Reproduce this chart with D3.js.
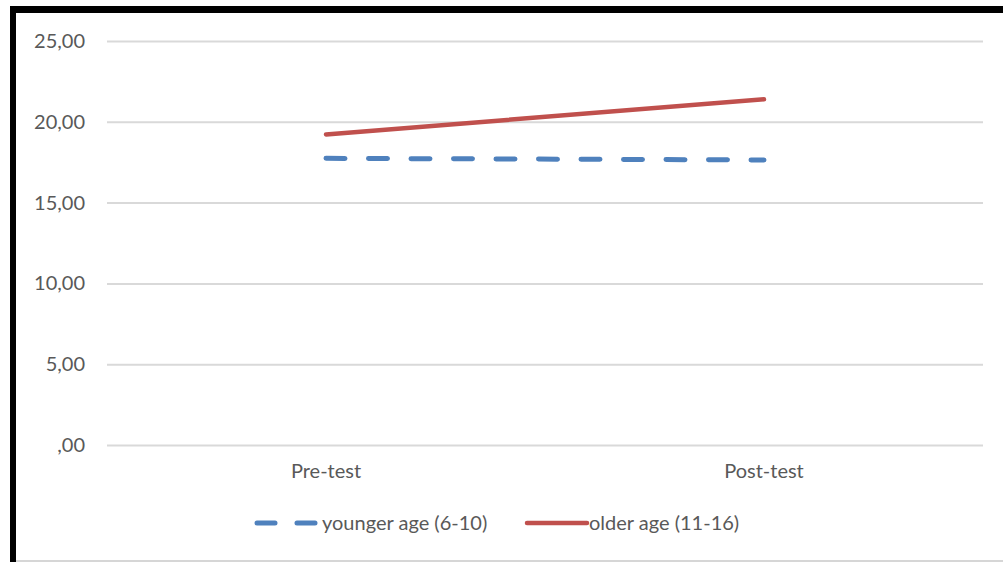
<!DOCTYPE html>
<html>
<head>
<meta charset="utf-8">
<script src="https://cdn.jsdelivr.net/npm/d3@7"></script>
<style>
  html, body { margin: 0; padding: 0; background: #fff; }
  svg { display: block; }
  text { font-family: Lato, "Open Sans", sans-serif; fill: #595959; }
</style>
</head>
<body>
<svg id="chart" width="1003" height="562"></svg>
<script>
// Test phases on the x axis
const phases = ["Pre-test", "Post-test"];
// Mean scores per age group
const youngerScores = [17.74, 17.64];
const olderScores = [19.22, 21.39];
const seriesNames = ["younger age (6-10)", "older age (11-16)"];
const yTicks = [0, 5, 10, 15, 20, 25];

const svg = d3.select("#chart");
const W = 1003, H = 562;
const fontSize = 20;

// outer frame: thick black on left and top, light rule at bottom
svg.append("rect").attr("x", 0).attr("y", 0).attr("width", W).attr("height", H).attr("fill", "#fff");
svg.append("line").attr("x1", 13).attr("x2", 13).attr("y1", 6).attr("y2", H)
  .attr("stroke", "#000").attr("stroke-width", 6);
svg.append("line").attr("x1", 10).attr("x2", W).attr("y1", 9.5).attr("y2", 9.5)
  .attr("stroke", "#000").attr("stroke-width", 7);
svg.append("line").attr("x1", 16).attr("x2", W).attr("y1", 561).attr("y2", 561)
  .attr("stroke", "#c8c8c8").attr("stroke-width", 1.5);

const plot = { left: 107, right: 983, top: 41, bottom: 445 };

const x = d3.scaleBand().domain(phases).range([plot.left, plot.right]);
const y = d3.scaleLinear().domain([0, 25]).range([plot.bottom, plot.top]);

const fmt = v => v === 0 ? ",00" : d3.format(".2f")(v).replace(".", ",");

// horizontal gridlines with labels
const yAxis = d3.axisLeft(y).tickValues(yTicks).tickFormat(fmt)
  .tickSize(-(plot.right - plot.left)).tickPadding(22);
const gy = svg.append("g").attr("transform", `translate(${plot.left},0)`).call(yAxis);
gy.select(".domain").remove();
gy.selectAll(".tick line").attr("stroke", "#d9d9d9").attr("stroke-width", 2);
gy.selectAll(".tick text").attr("font-size", fontSize).style("fill", "#595959")
  .attr("font-family", "Lato, 'Open Sans', sans-serif");

// category labels
const xAxis = d3.axisBottom(x).tickSize(0).tickPadding(19);
const gx = svg.append("g").attr("transform", `translate(0,${plot.bottom})`).call(xAxis);
gx.select(".domain").remove();
gx.selectAll(".tick text").attr("font-size", fontSize).style("fill", "#595959")
  .attr("font-family", "Lato, 'Open Sans', sans-serif");

const line = d3.line()
  .x((d, i) => x(phases[i]) + x.bandwidth() / 2)
  .y(d => y(d));

svg.append("path").datum(olderScores)
  .attr("d", line).attr("fill", "none")
  .attr("stroke", "#c0504d").attr("stroke-width", 4.5).attr("stroke-linecap", "round");

svg.append("path").datum(youngerScores)
  .attr("d", line).attr("fill", "none")
  .attr("stroke", "#4f81bd").attr("stroke-width", 5)
  .attr("stroke-linecap", "round").attr("stroke-dasharray", "19 23.5");

// legend
const legendY = 523;
const lg = svg.append("g");
lg.append("line").attr("x1", 257).attr("x2", 315).attr("y1", legendY).attr("y2", legendY)
  .attr("stroke", "#4f81bd").attr("stroke-width", 5).attr("stroke-linecap", "round")
  .attr("stroke-dasharray", "18 22");
lg.append("text").attr("x", 322).attr("y", legendY).attr("dy", "0.35em")
  .attr("font-size", fontSize).text(seriesNames[0]);
lg.append("line").attr("x1", 527).attr("x2", 587).attr("y1", legendY).attr("y2", legendY)
  .attr("stroke", "#c0504d").attr("stroke-width", 4.5).attr("stroke-linecap", "round");
lg.append("text").attr("x", 589).attr("y", legendY).attr("dy", "0.35em")
  .attr("font-size", fontSize).text(seriesNames[1]);
</script>
</body>
</html>
